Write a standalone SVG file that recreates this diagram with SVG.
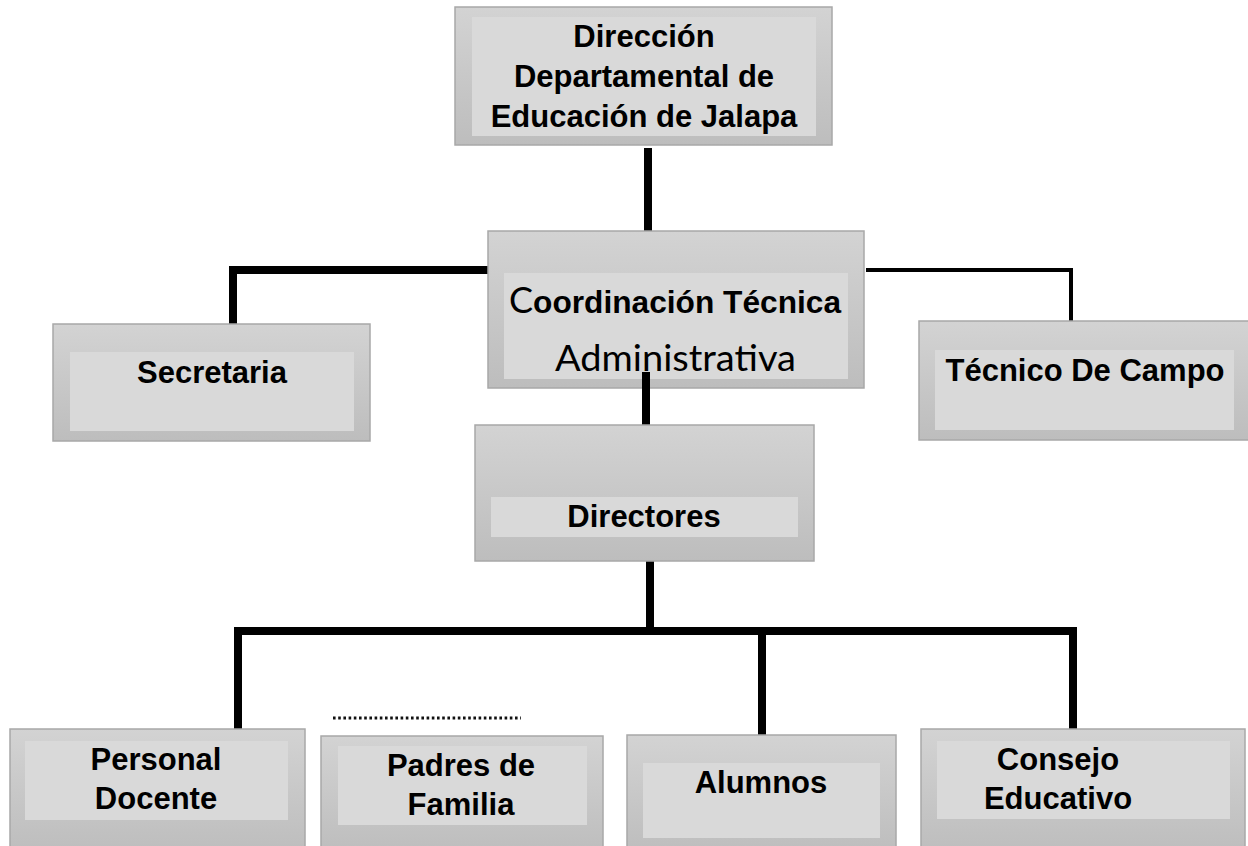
<svg xmlns="http://www.w3.org/2000/svg" width="1248" height="846" viewBox="0 0 1248 846">
<defs>
<linearGradient id="g" x1="0" y1="0" x2="0" y2="1">
<stop offset="0" stop-color="#d3d3d3"/>
<stop offset="1" stop-color="#bdbdbd"/>
</linearGradient>
<style>
.outer{fill:url(#g);stroke:#a8a8a8;stroke-width:1.5}
.inner{fill:#d9d9d9}
.lbl{font-family:"Liberation Sans",Arial,sans-serif;font-weight:bold;font-size:31px;fill:#000;text-anchor:middle}
.cal{font-family:Lato,"Open Sans",sans-serif;font-weight:normal;fill:#000}
.thick{stroke:#000;stroke-width:8;fill:none;stroke-linejoin:miter}
.thin{stroke:#000;stroke-width:4;fill:none}
.dots{stroke:#111;stroke-width:3;stroke-dasharray:2.6 2.6;fill:none}
</style>
</defs>
<rect width="1248" height="846" fill="#fff"/>

<g id="connectors">
<line class="thick" x1="648" y1="148" x2="648" y2="232"/>
<path class="thick" d="M488 270 H233 V324"/>
<path class="thin" d="M866 270 H1071 V322"/>
<path class="thick" d="M650 561 V631"/>
<path class="thick" d="M238 730 V631 H1073 V730"/>
<line class="thick" x1="762" y1="631" x2="762" y2="735"/>
</g>

<g id="n-direccion">
<rect class="outer" x="455" y="7" width="377" height="138"/>
<rect class="inner" x="472" y="17" width="344" height="119"/>
<text class="lbl" x="644" y="47">Dirección</text>
<text class="lbl" x="644" y="87">Departamental de</text>
<text class="lbl" x="644" y="127">Educación de Jalapa</text>
</g>

<g id="n-coordinacion">
<rect class="outer" x="488" y="231" width="376" height="157"/>
<rect class="inner" x="504" y="273" width="344" height="106"/>
<text x="509" y="313"><tspan class="cal" font-size="36">C</tspan><tspan font-family="'Liberation Sans',Arial,sans-serif" font-weight="bold" font-size="31" textLength="308" lengthAdjust="spacingAndGlyphs">oordinación Técnica</tspan></text>
<text class="cal" x="555" y="371" font-size="36" textLength="241" lengthAdjust="spacingAndGlyphs">Administrativa</text>
</g>

<g id="connector-overlay">
<line class="thick" x1="646" y1="372" x2="646" y2="426"/>
</g>

<g id="n-secretaria">
<rect class="outer" x="53" y="324" width="317" height="117"/>
<rect class="inner" x="70" y="352" width="284" height="79"/>
<text class="lbl" x="212" y="383">Secretaria</text>
</g>

<g id="n-tecnico">
<rect class="outer" x="919" y="321" width="340" height="119"/>
<rect class="inner" x="935" y="350" width="299" height="80"/>
<text class="lbl" x="1085" y="381">Técnico De Campo</text>
</g>

<g id="n-directores">
<rect class="outer" x="475" y="425" width="339" height="136"/>
<rect class="inner" x="491" y="497" width="307" height="40"/>
<text class="lbl" x="644" y="527">Directores</text>
</g>

<g id="n-personal">
<rect class="outer" x="10" y="729" width="295" height="125"/>
<rect class="inner" x="25" y="741" width="263" height="79"/>
<text class="lbl" x="156" y="770">Personal</text>
<text class="lbl" x="156" y="809">Docente</text>
</g>

<g id="n-padres">
<line class="dots" x1="333" y1="718" x2="521" y2="718"/>
<rect class="outer" x="321" y="736" width="282" height="118"/>
<rect class="inner" x="338" y="746" width="249" height="79"/>
<text class="lbl" x="461" y="776">Padres de</text>
<text class="lbl" x="461" y="815">Familia</text>
</g>

<g id="n-alumnos">
<rect class="outer" x="627" y="735" width="269" height="119"/>
<rect class="inner" x="643" y="763" width="237" height="75"/>
<text class="lbl" x="761" y="793">Alumnos</text>
</g>

<g id="n-consejo">
<rect class="outer" x="921" y="729" width="324" height="125"/>
<rect class="inner" x="937" y="741" width="293" height="78"/>
<text class="lbl" x="1058" y="770">Consejo</text>
<text class="lbl" x="1058" y="809">Educativo</text>
</g>
</svg>
